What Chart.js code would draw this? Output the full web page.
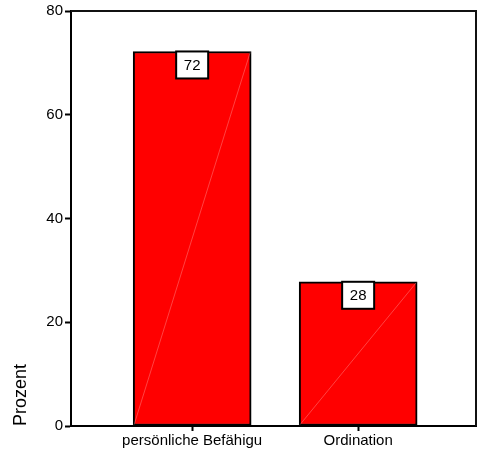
<!DOCTYPE html>
<html>
<head>
<meta charset="utf-8">
<script src="https://cdn.jsdelivr.net/npm/chart.js@4.4.1/dist/chart.umd.min.js"></script>
<style>
  body { margin: 0; background: #fff; }
  .wrap { width: 478px; height: 450px; }
</style>
</head>
<body>
<div class="wrap"><canvas id="myChart" width="478" height="450"></canvas></div>
<script>
const categories = ["persönliche Befähigu", "Ordination"];
const categoryPos = [1, 2];
const percentValues = [72.2, 27.8];
const valueLabels = ["72", "28"];
const yTicks = [0, 20, 40, 60, 80];

const ctx = document.getElementById("myChart").getContext("2d");
const font = "Liberation Sans, Arial, sans-serif";

// frame on top and right, like the old SPSS output
const framePlugin = {
  id: "frame",
  afterDatasetsDraw(chart) {
    const { ctx, chartArea } = chart;
    ctx.save();
    ctx.strokeStyle = "#111";
    ctx.lineWidth = 2;
    ctx.beginPath();
    ctx.moveTo(chartArea.left, chartArea.top);
    ctx.lineTo(chartArea.right, chartArea.top);
    ctx.lineTo(chartArea.right, chartArea.bottom);
    ctx.stroke();
    ctx.restore();
  },
};

// faint diagonal in each bar + white value box at the top
const barLabels = {
  id: "barLabels",
  afterDatasetsDraw(chart) {
    const { ctx } = chart;
    const meta = chart.getDatasetMeta(0);
    meta.data.forEach((bar, i) => {
      const half = bar.width / 2;
      ctx.save();
      ctx.strokeStyle = "rgba(255,190,190,0.7)";
      ctx.lineWidth = 0.5;
      ctx.beginPath();
      ctx.moveTo(bar.x - half + 1, bar.base - 1);
      ctx.lineTo(bar.x + half - 1, bar.y + 1);
      ctx.stroke();

      const w = 32, h = 27;
      ctx.fillStyle = "#fff";
      ctx.fillRect(bar.x - w / 2, bar.y, w, h);
      ctx.strokeStyle = "#000";
      ctx.lineWidth = 2;
      ctx.strokeRect(bar.x - w / 2, bar.y, w, h);
      ctx.fillStyle = "#000";
      ctx.font = "15px " + font;
      ctx.textAlign = "center";
      ctx.textBaseline = "middle";
      ctx.fillText(valueLabels[i], bar.x, bar.y + h / 2 + 1);
      ctx.restore();
    });
  },
};

new Chart(ctx, {
  type: "bar",
  data: {
    datasets: [
      {
        data: categoryPos.map((x, i) => ({ x: x, y: percentValues[i] })),
        backgroundColor: "#FF0000",
        borderColor: "#000",
        borderWidth: 2,
        borderSkipped: false,
        barThickness: 118,
      },
    ],
  },
  options: {
    responsive: false,
    animation: false,
    layout: { padding: { top: 11, right: 2, left: 0, bottom: 0 } },
    plugins: {
      legend: { display: false },
      tooltip: { enabled: false },
    },
    scales: {
      x: {
        type: "linear",
        offset: false,
        bounds: "data",
        min: 0.27,
        max: 2.71,
        afterDataLimits: (s) => {
          s.min = 0.27;
          s.max = 2.71;
        },
        afterBuildTicks: (s) => {
          s.ticks = categoryPos.map((v) => ({ value: v }));
        },
        afterFit: (s) => {
          s.height = 24;
        },
        ticks: {
          autoSkip: false,
          maxRotation: 0,
          padding: 1,
          color: "#000",
          font: { family: font, size: 15 },
          callback: (v) => categories[categoryPos.indexOf(v)] || "",
        },
        grid: { offset: false, drawOnChartArea: false, tickLength: 5, tickWidth: 2, tickColor: "#000" },
        border: { display: true, color: "#000", width: 2 },
      },
      y: {
        min: 0,
        max: 80,
        afterBuildTicks: (s) => {
          s.ticks = yTicks.map((v) => ({ value: v }));
        },
        afterFit: (s) => {
          s.width = 71;
        },
        ticks: {
          padding: 2,
          color: "#000",
          font: { family: font, size: 15 },
        },
        title: {
          display: true,
          text: "Prozent",
          align: "start",
          color: "#000",
          font: { family: font, size: 18 },
          padding: { top: 10, bottom: 0 },
        },
        grid: { drawOnChartArea: false, tickLength: 6, tickWidth: 2, tickColor: "#000" },
        border: { display: true, color: "#000", width: 2 },
      },
    },
  },
  plugins: [framePlugin, barLabels],
});
</script>
</body>
</html>
